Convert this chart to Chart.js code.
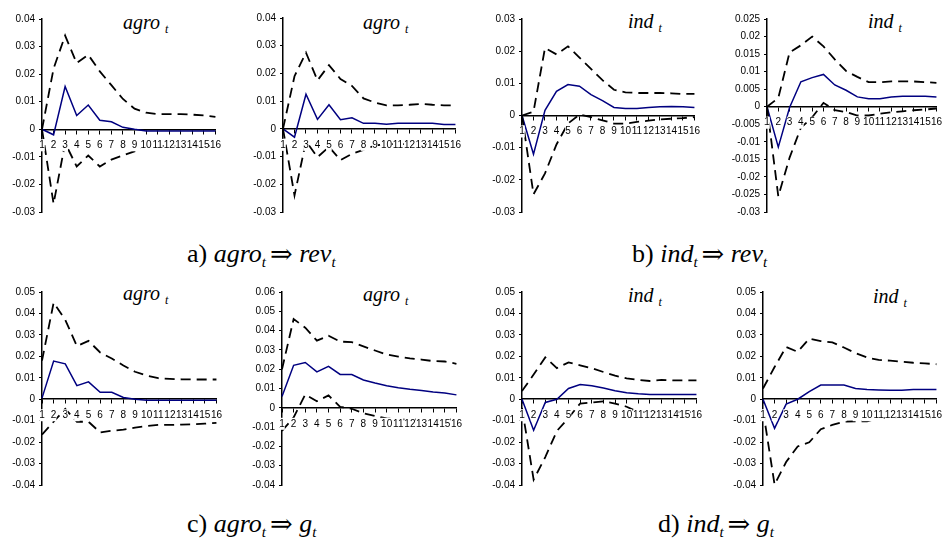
<!DOCTYPE html>
<html>
<head>
<meta charset="utf-8">
<script src="https://cdn.jsdelivr.net/npm/chart.js@4.4.1/dist/chart.umd.min.js"></script>
<style>
body{margin:0;width:945px;height:545px;background:#fff;position:relative;overflow:hidden}
canvas{position:absolute}
.ttl{position:absolute;font-family:'Liberation Serif','Times New Roman',serif;font-style:italic;font-size:20px;line-height:20px;white-space:nowrap}
.ttl .s{font-size:12px;position:relative;top:4px;margin-left:5px}
.cap{position:absolute;font-family:'Liberation Serif','Times New Roman',serif;font-size:26px;line-height:26px;white-space:nowrap}
.cap i .s{font-size:15px;position:relative;top:5px}
.cap .ar{font-family:'DejaVu Serif',serif;font-size:27px;position:relative;top:1px;margin-left:4px}
</style>
</head>
<body>
<div class="ttl" style="left:123px;top:12px">agro<span class="s">t</span></div>
<div class="ttl" style="left:363px;top:12px">agro<span class="s">t</span></div>
<div class="ttl" style="left:628px;top:11px">ind<span class="s">t</span></div>
<div class="ttl" style="left:868px;top:11px">ind<span class="s">t</span></div>
<div class="ttl" style="left:123px;top:283px">agro<span class="s">t</span></div>
<div class="ttl" style="left:363px;top:284px">agro<span class="s">t</span></div>
<div class="ttl" style="left:628px;top:285px">ind<span class="s">t</span></div>
<div class="ttl" style="left:873px;top:286px">ind<span class="s">t</span></div>

<div class="cap" style="left:187px;top:240px">a) <i>agro<span class="s">t</span></i><span class="ar">⇒</span> <i>rev<span class="s">t</span></i></div>
<div class="cap" style="left:632px;top:240px">b) <i>ind<span class="s">t</span></i><span class="ar">⇒</span> <i>rev<span class="s">t</span></i></div>
<div class="cap" style="left:187px;top:510px">c) <i>agro<span class="s">t</span></i><span class="ar">⇒</span> <i>g<span class="s">t</span></i></div>
<div class="cap" style="left:658px;top:510px">d) <i>ind<span class="s">t</span></i><span class="ar">⇒</span> <i>g<span class="s">t</span></i></div>

<script>
const horizons = ['1','2','3','4','5','6','7','8','9','10','11','12','13','14','15','16'];

// a) agro -> rev
const a1Irf = [0, -0.002, 0.0155, 0.005, 0.0088, 0.0033, 0.0027, 0.0007, 0, -0.0006, -0.0006, -0.0006, -0.0006, -0.0006, -0.0006, -0.0006];
const a1Up  = [0, 0.022, 0.034, 0.024, 0.027, 0.021, 0.016, 0.011, 0.0075, 0.006, 0.0055, 0.0055, 0.0055, 0.0053, 0.005, 0.0045];
const a1Lo  = [0, -0.027, -0.005, -0.0135, -0.0095, -0.0135, -0.011, -0.0095, -0.008, -0.0065, -0.006, -0.006, -0.006, -0.006, -0.006, -0.006];

const a2Irf = [0, -0.003, 0.0125, 0.0034, 0.0087, 0.0033, 0.004, 0.002, 0.002, 0.0017, 0.002, 0.002, 0.002, 0.002, 0.0016, 0.0016];
const a2Up  = [0, 0.019, 0.0275, 0.0175, 0.023, 0.018, 0.0155, 0.011, 0.0095, 0.0085, 0.0085, 0.0087, 0.009, 0.0087, 0.0085, 0.0085];
const a2Lo  = [0, -0.024, -0.0045, -0.0102, -0.0065, -0.0113, -0.009, -0.0076, -0.006, -0.0055, -0.0055, -0.0055, -0.0055, -0.0055, -0.0055, -0.0055];

// b) ind -> rev
const b1Irf = [0, -0.012, 0.0016, 0.0075, 0.0096, 0.0091, 0.0065, 0.0046, 0.0025, 0.0022, 0.0022, 0.0025, 0.0027, 0.0028, 0.0027, 0.0025];
const b1Up  = [0, 0.0012, 0.021, 0.019, 0.0215, 0.018, 0.0145, 0.011, 0.008, 0.0072, 0.007, 0.007, 0.007, 0.0069, 0.0067, 0.0067];
const b1Lo  = [0, -0.0245, -0.018, -0.009, -0.0025, 0.0003, -0.0005, -0.0015, -0.0025, -0.0025, -0.002, -0.0016, -0.0012, -0.001, -0.0008, -0.0005];

const b2Irf = [0, -0.0115, -0.0002, 0.0071, 0.0083, 0.0092, 0.0062, 0.0047, 0.0028, 0.0023, 0.0023, 0.0028, 0.003, 0.003, 0.003, 0.0028];
const b2Up  = [0, 0.0025, 0.0155, 0.0175, 0.02, 0.0172, 0.0135, 0.0102, 0.0085, 0.007, 0.007, 0.0072, 0.0072, 0.0072, 0.007, 0.0068];
const b2Lo  = [0, -0.0255, -0.0145, -0.006, -0.003, 0.0011, -0.001, -0.0015, -0.0025, -0.0025, -0.002, -0.0016, -0.0013, -0.001, -0.0008, -0.0005];

// c) agro -> g
const c1Irf = [0.0005, 0.0178, 0.0165, 0.0063, 0.0081, 0.0032, 0.0032, 0.0008, 0, -0.0005, -0.0005, -0.0005, -0.0005, -0.0005, -0.0005, -0.0005];
const c1Up  = [0.018, 0.045, 0.037, 0.0248, 0.0272, 0.0218, 0.019, 0.0157, 0.0128, 0.011, 0.0098, 0.0095, 0.0093, 0.0092, 0.0092, 0.0092];
const c1Lo  = [-0.0165, -0.0105, -0.0045, -0.0105, -0.0105, -0.0155, -0.0147, -0.0142, -0.0132, -0.0125, -0.012, -0.012, -0.0118, -0.0117, -0.0114, -0.011];

const c2Irf = [0.0059, 0.022, 0.0235, 0.0186, 0.0215, 0.0173, 0.0172, 0.0144, 0.0128, 0.0114, 0.0104, 0.0096, 0.009, 0.0082, 0.0077, 0.0067];
const c2Up  = [0.02, 0.046, 0.0415, 0.0348, 0.0373, 0.0343, 0.034, 0.0318, 0.0297, 0.0276, 0.0265, 0.0256, 0.025, 0.0242, 0.024, 0.0228];
const c2Lo  = [-0.012, -0.005, 0.0069, 0.0034, 0.0064, 0.0005, -0.0005, -0.0028, -0.0042, -0.0055, -0.006, -0.006, -0.006, -0.006, -0.006, -0.006];

// d) ind -> g
const d1Irf = [0, -0.0145, -0.0015, 0, 0.005, 0.0069, 0.0063, 0.0052, 0.004, 0.003, 0.0025, 0.0022, 0.0022, 0.0022, 0.0022, 0.0022];
const d1Up  = [0.0038, 0.0115, 0.0195, 0.0145, 0.0172, 0.0158, 0.0145, 0.0127, 0.011, 0.0097, 0.009, 0.0085, 0.009, 0.0088, 0.0088, 0.0088];
const d1Lo  = [-0.004, -0.0375, -0.027, -0.0148, -0.0087, -0.002, -0.0015, -0.001, -0.002, -0.0035, -0.006, -0.006, -0.006, -0.006, -0.006, -0.006];

const d2Irf = [0, -0.0136, -0.0023, 0, 0.0035, 0.0066, 0.0066, 0.0066, 0.005, 0.0045, 0.0043, 0.0042, 0.0042, 0.0045, 0.0045, 0.0045];
const d2Up  = [0.005, 0.015, 0.0244, 0.0221, 0.0282, 0.0271, 0.0265, 0.0241, 0.0215, 0.0195, 0.0183, 0.018, 0.0175, 0.017, 0.0167, 0.0163];
const d2Lo  = [-0.005, -0.0398, -0.0293, -0.022, -0.0201, -0.014, -0.012, -0.0105, -0.0103, -0.0103, -0.009, -0.0085, -0.0085, -0.0085, -0.0085, -0.0085];

// plot area of every panel on the page: left, top, right, bottom
const panels = [
  {irf: a1Irf, up: a1Up, lo: a1Lo, min: -0.03, max: 0.04,  step: 0.01,  area: [42, 17, 219, 214]},
  {irf: a2Irf, up: a2Up, lo: a2Lo, min: -0.03, max: 0.04,  step: 0.01,  area: [283, 16, 459, 214]},
  {irf: b1Irf, up: b1Up, lo: b1Lo, min: -0.03, max: 0.03,  step: 0.01,  area: [522, 17, 698, 214]},
  {irf: b2Irf, up: b2Up, lo: b2Lo, min: -0.03, max: 0.025, step: 0.005, area: [767, 17, 940, 214]},
  {irf: c1Irf, up: c1Up, lo: c1Lo, min: -0.04, max: 0.05,  step: 0.01,  area: [42, 290, 220, 487]},
  {irf: c2Irf, up: c2Up, lo: c2Lo, min: -0.04, max: 0.06,  step: 0.01,  area: [282, 290, 460, 487]},
  {irf: d1Irf, up: d1Up, lo: d1Lo, min: -0.04, max: 0.05,  step: 0.01,  area: [522, 290, 700, 487]},
  {irf: d2Irf, up: d2Up, lo: d2Lo, min: -0.04, max: 0.05,  step: 0.01,  area: [763, 290, 940, 487]}
];

const tickFont = {family: "'Liberation Sans', Arial, sans-serif", size: 10};

function drawPanel(p) {
  var cv = document.createElement('canvas');
  var w = p.area[2] - p.area[0] + 48;
  var h = p.area[3] - p.area[1] + 16;
  cv.width = w; cv.height = h;
  cv.style.width = w + 'px'; cv.style.height = h + 'px';
  cv.style.left = (p.area[0] - 40) + 'px';
  cv.style.top = (p.area[1] - 8) + 'px';
  document.body.appendChild(cv);

  new Chart(cv, {
    type: 'line',
    data: {
      labels: horizons,
      datasets: [
        {data: p.up, borderColor: '#000', borderWidth: 1.8, borderDash: [10, 6]},
        {data: p.lo, borderColor: '#000', borderWidth: 1.8, borderDash: [10, 6]},
        {data: p.irf, borderColor: '#000080', borderWidth: 1.5}
      ]
    },
    options: {
      responsive: false,
      animation: false,
      layout: {padding: {left: 0, right: 8, top: 8, bottom: 8}},
      elements: {point: {radius: 0}, line: {tension: 0}},
      plugins: {legend: {display: false}, tooltip: {enabled: false}},
      scales: {
        x: {
          position: {y: 0},
          offset: false,
          grid: {drawOnChartArea: false, drawTicks: true, tickLength: 4, color: '#000'},
          border: {color: '#000', width: 1.5},
          ticks: {
            autoSkip: false, maxRotation: 0, minRotation: 0, padding: 6,
            color: '#000', font: tickFont, z: 1,
            showLabelBackdrop: true, backdropColor: '#fff', backdropPadding: 0
          }
        },
        y: {
          min: p.min, max: p.max,
          afterFit: function(s) { s.width = 40; },
          grid: {drawOnChartArea: false, tickLength: 3, color: '#000'},
          border: {color: '#000', width: 1.5},
          ticks: {
            stepSize: p.step, padding: 4, color: '#000', font: tickFont,
            callback: function(v) { return String(+v.toFixed(3)); }
          }
        }
      }
    }
  });
}

panels.forEach(drawPanel);
</script>
</body>
</html>
